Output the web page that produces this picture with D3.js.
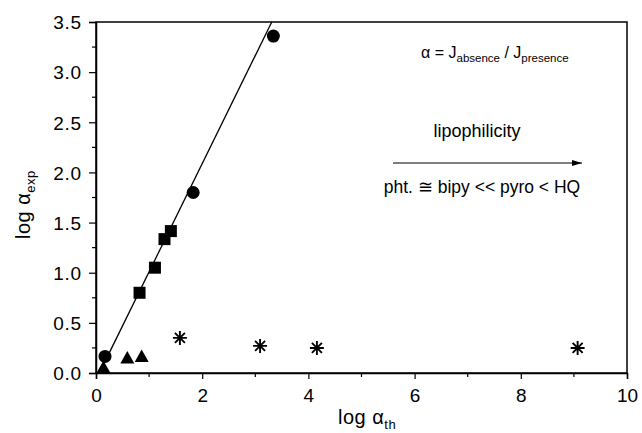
<!DOCTYPE html>
<html><head><meta charset="utf-8">
<script src="https://cdn.jsdelivr.net/npm/d3@7"></script>
<style>
body{margin:0;background:#fff;}
text{font-family:Arial,"Liberation Sans",sans-serif;fill:#000;}
</style></head>
<body><svg id="c" width="642" height="433"></svg>
<script>
// Data
const circles = [[0.17, 0.165], [1.83, 1.80], [3.34, 3.36]];
const squares = [[0.82, 0.80], [1.11, 1.05], [1.29, 1.335], [1.41, 1.415]];
const triangles = [[0.14, 0.055], [0.59, 0.15], [0.86, 0.165]];
const stars = [[1.58, 0.35], [3.09, 0.27], [4.16, 0.25], [9.07, 0.25]];
const fitLine = [[0.22, 0.168], [3.31, 3.5]];
const xTicks = [0, 2, 4, 6, 8, 10];
const yTicks = [0.0, 0.5, 1.0, 1.5, 2.0, 2.5, 3.0, 3.5];

const svg = d3.select("#c");
const x = d3.scaleLinear().domain([0, 10]).range([96, 627]);
const y = d3.scaleLinear().domain([0, 3.5]).range([373, 22]);

// frame
svg.append("rect").attr("x", 96).attr("y", 22).attr("width", 531).attr("height", 351)
  .attr("fill", "none").attr("stroke", "#000").attr("stroke-width", 1.5);

// axes
const xAxis = d3.axisBottom(x).tickValues(xTicks).tickSize(6).tickFormat(d3.format("d"));
const gx = svg.append("g").attr("transform", "translate(0,373)").call(xAxis);
const xMinor = d3.range(1, 10, 2);
gx.selectAll(".minor").data(xMinor).enter().append("line").attr("class","minor")
  .attr("x1", d => x(d)).attr("x2", d => x(d)).attr("y1", 0).attr("y2", 4).attr("stroke", "#000").attr("stroke-width", 1.2);

const yAxis = d3.axisLeft(y).tickValues(yTicks).tickSize(7).tickFormat(d3.format(".1f"));
const gy = svg.append("g").attr("transform", "translate(96,0)").call(yAxis);
const yMinor = d3.range(0.25, 3.5, 0.5);
gy.selectAll(".minor").data(yMinor).enter().append("line").attr("class","minor")
  .attr("y1", d => y(d)).attr("y2", d => y(d)).attr("x1", 0).attr("x2", -4).attr("stroke", "#000").attr("stroke-width", 1.2);

[gx, gy].forEach(g => {
  g.select(".domain").attr("stroke", "#000").attr("stroke-width", 1.5);
  g.selectAll(".tick line").attr("stroke", "#000").attr("stroke-width", 1.2);
  g.selectAll(".tick text").attr("font-size", 19).attr("font-family", "Arial, 'Liberation Sans', sans-serif").attr("fill", "#000");
});
gx.selectAll(".tick text").attr("dy", 0).attr("y", 29);
gy.selectAll(".tick text").attr("x", -14).attr("dy", "0.36em").attr("letter-spacing", 0.8);

// axis titles
const xt = svg.append("text").attr("x", 338).attr("y", 424).attr("font-size", 20).attr("letter-spacing", 0.5);
xt.append("tspan").text("log α");
xt.append("tspan").attr("font-size", 13).attr("dy", 5).text("th");

const yt = svg.append("text").attr("transform", "translate(30,239) rotate(-90)").attr("font-size", 20).attr("letter-spacing", 0.5);
yt.append("tspan").text("log α");
yt.append("tspan").attr("font-size", 13).attr("dy", 5).text("exp");

// fit line
svg.append("path").datum(fitLine)
  .attr("d", d3.line().x(d => x(d[0])).y(d => y(d[1])))
  .attr("stroke", "#000").attr("stroke-width", 1.3).attr("fill", "none");

// markers
svg.selectAll(".circ").data(circles).enter().append("circle")
  .attr("cx", d => x(d[0])).attr("cy", d => y(d[1])).attr("r", 6.5).attr("fill", "#000");
svg.selectAll(".sq").data(squares).enter().append("rect")
  .attr("x", d => x(d[0]) - 6).attr("y", d => y(d[1]) - 6).attr("width", 12).attr("height", 12).attr("fill", "#000");
svg.selectAll(".tri").data(triangles).enter().append("path")
  .attr("transform", d => `translate(${x(d[0])},${y(d[1])})`)
  .attr("d", "M0,-7L7,5.5L-7,5.5Z").attr("fill", "#000");
const starPath = "M0,-7V7M-7,0H7M-5,-5L5,5M-5,5L5,-5";
svg.selectAll(".star").data(stars).enter().append("path")
  .attr("transform", d => `translate(${x(d[0])},${y(d[1])})`)
  .attr("d", starPath).attr("stroke", "#000").attr("stroke-width", 1.9).attr("fill", "none");

// annotations
const ann = svg.append("text").attr("x", 421).attr("y", 58).attr("font-size", 16);
ann.append("tspan").text("α = J");
ann.append("tspan").attr("font-size", 11.5).attr("dy", 4).text("absence");
ann.append("tspan").attr("dy", -4).text(" / J");
ann.append("tspan").attr("font-size", 11.5).attr("dy", 4).text("presence");

svg.append("text").attr("x", 477).attr("y", 137).attr("font-size", 18).attr("text-anchor", "middle").text("lipophilicity");

svg.append("defs").append("marker").attr("id", "ah").attr("viewBox", "0 0 10 6").attr("refX", 10).attr("refY", 3)
  .attr("markerWidth", 10).attr("markerHeight", 6).attr("markerUnits", "userSpaceOnUse").attr("orient", "auto")
  .append("path").attr("d", "M0,0L10,3L0,6Z").attr("fill", "#000");
svg.append("line").attr("x1", 393).attr("x2", 582).attr("y1", 163).attr("y2", 163)
  .attr("stroke", "#000").attr("stroke-width", 1.2).attr("marker-end", "url(#ah)");

svg.append("text").attr("x", 482).attr("y", 193).attr("font-size", 17.5).attr("text-anchor", "middle").text("pht. ≅ bipy << pyro < HQ");
</script></body></html>
